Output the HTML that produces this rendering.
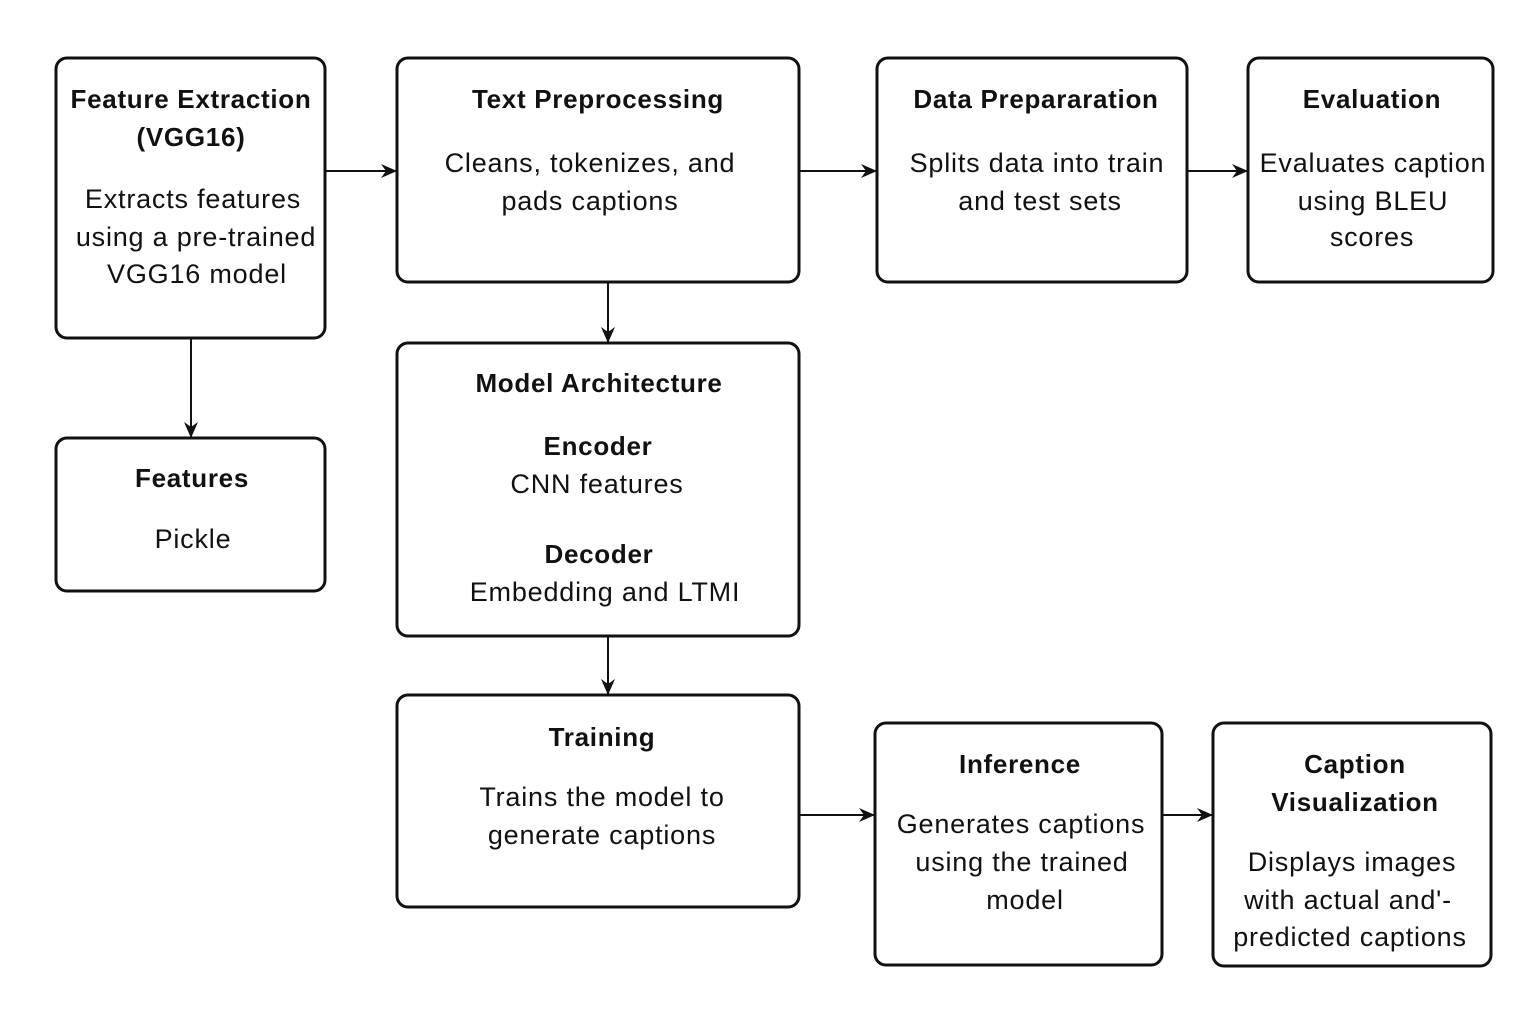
<!DOCTYPE html>
<html><head><meta charset="utf-8"><style>
html,body{margin:0;padding:0;background:#fff;}
svg{display:block;}
text{font-family:"Liberation Sans","DejaVu Sans",sans-serif;font-size:27px;letter-spacing:0.8px;fill:#111;text-anchor:middle;}
.b{font-weight:bold;font-size:26px;letter-spacing:0.7px;}
rect{fill:#fff;stroke:#111;stroke-width:3;}
line{stroke:#111;stroke-width:2;}
</style></head><body>
<svg width="1536" height="1024" viewBox="0 0 1536 1024">
<defs><marker id="a" markerWidth="16" markerHeight="14" refX="15" refY="7" orient="auto" markerUnits="userSpaceOnUse"><path d="M0,0 L16,7 L0,14 L5,7 Z" fill="#111"/></marker></defs>
<rect x="56" y="58" width="269" height="280" rx="11"/>
<rect x="397" y="58" width="402" height="224" rx="11"/>
<rect x="877" y="58" width="310" height="224" rx="11"/>
<rect x="1248" y="58" width="245" height="224" rx="11"/>
<rect x="56" y="438" width="269" height="153" rx="11"/>
<rect x="397" y="343" width="402" height="293" rx="11"/>
<rect x="397" y="695" width="402" height="212" rx="11"/>
<rect x="875" y="723" width="287" height="242" rx="11"/>
<rect x="1213" y="723" width="278" height="243" rx="11"/>
<line x1="325" y1="171" x2="396" y2="171" marker-end="url(#a)"/>
<line x1="799" y1="171" x2="876" y2="171" marker-end="url(#a)"/>
<line x1="1187" y1="171" x2="1247" y2="171" marker-end="url(#a)"/>
<line x1="191" y1="338" x2="191" y2="437" marker-end="url(#a)"/>
<line x1="608" y1="282" x2="608" y2="342" marker-end="url(#a)"/>
<line x1="608" y1="636" x2="608" y2="694" marker-end="url(#a)"/>
<line x1="799" y1="815" x2="874" y2="815" marker-end="url(#a)"/>
<line x1="1162" y1="815" x2="1212" y2="815" marker-end="url(#a)"/>
<text class="b" x="191" y="108">Feature Extraction</text>
<text class="b" x="191" y="146">(VGG16)</text>
<text x="193" y="208">Extracts features</text>
<text x="196" y="246">using a pre-trained</text>
<text x="197" y="283">VGG16 model</text>
<text class="b" x="598" y="108">Text Preprocessing</text>
<text x="590" y="172">Cleans, tokenizes, and</text>
<text x="590" y="210">pads captions</text>
<text class="b" x="1036" y="108">Data Prepararation</text>
<text x="1037" y="172">Splits data into train</text>
<text x="1040" y="210">and test sets</text>
<text class="b" x="1372" y="108">Evaluation</text>
<text x="1373" y="172">Evaluates caption</text>
<text x="1373" y="210">using BLEU</text>
<text x="1372" y="246">scores</text>
<text class="b" x="192" y="487">Features</text>
<text x="193" y="548">Pickle</text>
<text class="b" x="599" y="392">Model Architecture</text>
<text class="b" x="598" y="455">Encoder</text>
<text x="597" y="493">CNN features</text>
<text class="b" x="599" y="563">Decoder</text>
<text x="605" y="601">Embedding and LTMI</text>
<text class="b" x="602" y="746">Training</text>
<text x="602" y="806">Trains the model to</text>
<text x="602" y="844">generate captions</text>
<text class="b" x="1020" y="773">Inference</text>
<text x="1021" y="833">Generates captions</text>
<text x="1022" y="871">using the trained</text>
<text x="1025" y="909">model</text>
<text class="b" x="1355" y="773">Caption</text>
<text class="b" x="1355" y="811">Visualization</text>
<text x="1352" y="871">Displays images</text>
<text x="1348" y="909">with actual and'-</text>
<text x="1350" y="946">predicted captions</text>
</svg>
</body></html>
